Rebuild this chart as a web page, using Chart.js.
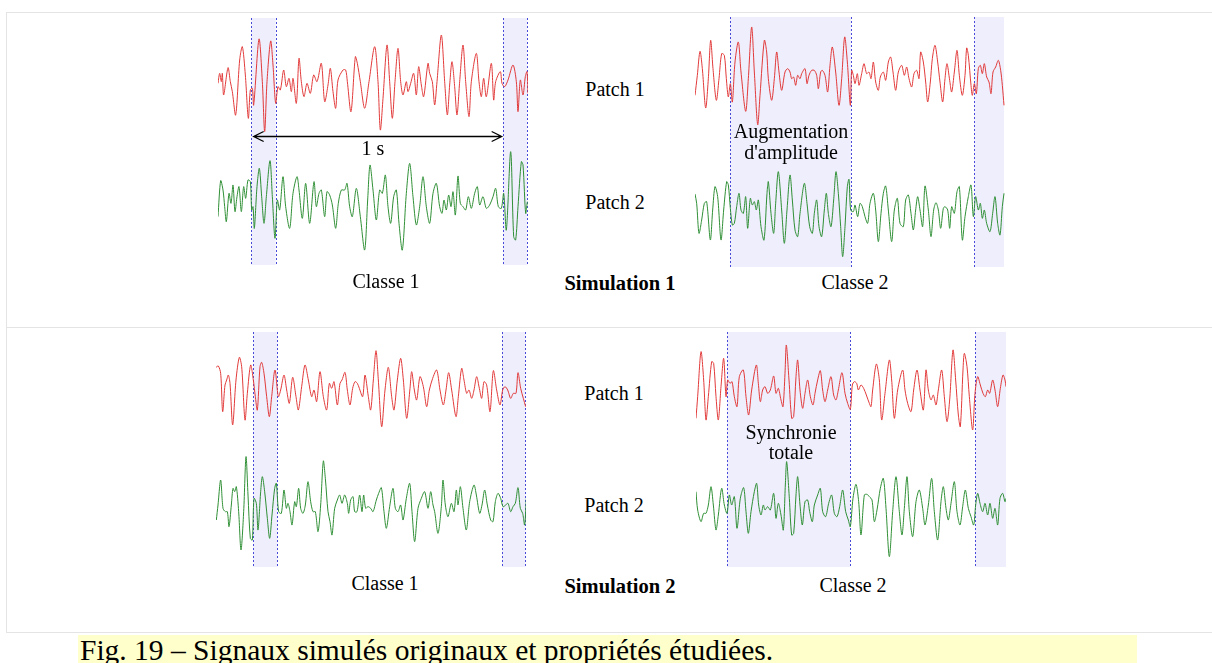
<!DOCTYPE html>
<html>
<head>
<meta charset="utf-8">
<script src="https://cdn.jsdelivr.net/npm/chart.js@4/dist/chart.umd.min.js"></script>
<style>
    body { margin: 0; width: 1212px; height: 663px; overflow: hidden; position: relative; background: #fff;
           font-family: "Liberation Serif", "Times New Roman", serif; }
    .hl { position: absolute; height: 1px; background: #e4e4e4; }
    .vl { position: absolute; width: 1px; background: #e4e4e4; }
    canvas { position: absolute; }
    .t { position: absolute; transform: translate(-50%, -50%); font-size: 20px; white-space: nowrap; color: #000; }
    .b { font-weight: bold; font-size: 20.5px; }
    #legende { position: absolute; left: 78px; top: 635px; width: 1059px; height: 28px; background: #ffffcc; }
    #legendeTexte { position: absolute; left: 80px; top: 633px; font-size: 29.5px; line-height: 34px; white-space: nowrap; }
</style>
</head>
<body>
<div class="hl" style="left:6px;top:12px;width:1206px"></div>
<div class="hl" style="left:6px;top:327px;width:1206px"></div>
<div class="hl" style="left:6px;top:632px;width:1206px"></div>
<div class="vl" style="left:6px;top:12px;height:620px"></div>

<canvas id="s1c1"></canvas>
<canvas id="s1c2"></canvas>
<canvas id="s2c1"></canvas>
<canvas id="s2c2"></canvas>

<div class="t" style="left:615px;top:89px">Patch 1</div>
<div class="t" style="left:615px;top:202px">Patch 2</div>
<div class="t" style="left:373px;top:148px">1 s</div>
<div class="t" style="left:791px;top:131px">Augmentation</div>
<div class="t" style="left:791px;top:152px">d'amplitude</div>
<div class="t" style="left:386px;top:281px">Classe 1</div>
<div class="t b" style="left:620px;top:283px">Simulation 1</div>
<div class="t" style="left:855px;top:282px">Classe 2</div>

<div class="t" style="left:614px;top:393px">Patch 1</div>
<div class="t" style="left:614px;top:505px">Patch 2</div>
<div class="t" style="left:791px;top:432px">Synchronie</div>
<div class="t" style="left:791px;top:452px">totale</div>
<div class="t" style="left:385px;top:583px">Classe 1</div>
<div class="t b" style="left:620px;top:586px">Simulation 2</div>
<div class="t" style="left:853px;top:585px">Classe 2</div>

<div id="legende"></div>
<div id="legendeTexte">Fig. 19 – Signaux simulés originaux et propriétés étudiées.</div>

<script>
// [échantillon, amplitude] ; 744 échantillons = 1 s
const sim1Classe1Patch1 = [[0,-5],[5,25],[10,0],[13,25],[17,-40],[30,42],[37,0],[43,-30],[53,-100],[65,65],[73,105],[82,20],[91,-110],[97,-25],[103,-20],[107,-70],[123,128],[133,0],[140,-150],[147,0],[158,122],[165,50],[173,-65],[180,-15],[187,-25],[197,35],[205,-15],[213,10],[220,-30],[225,10],[235,-65],[243,70],[250,0],[258,-45],[267,-5],[277,-35],[287,20],[297,0],[310,55],[320,-60],[330,-10],[337,40],[345,-30],[353,-80],[360,5],[375,35],[383,35],[388,0],[399,-90],[412,75],[418,55],[427,0],[440,-80],[453,0],[470,105],[480,0],[487,-145],[495,-50],[507,110],[515,0],[523,-110],[531,0],[540,100],[548,0],[555,-40],[565,0],[570,-30],[578,-5],[587,25],[595,-40],[602,45],[610,-10],[617,-45],[630,55],[635,25],[643,0],[650,-70],[657,0],[670,140],[680,0],[688,-100],[695,-10],[702,60],[710,-15],[717,-100],[725,0],[735,110],[743,0],[753,-105],[760,0],[775,85],[783,0],[790,-45],[797,10],[805,-45],[820,55],[827,-55],[833,0],[847,30],[852,-5],[860,-15],[870,5],[885,50],[895,0],[900,-90],[907,5],[915,-40],[922,15],[927,30],[930,-35]];
const sim1Classe1Patch2 = [[0,-30],[8,78],[15,50],[20,0],[25,-45],[33,40],[39,10],[45,65],[51,-15],[57,30],[63,60],[70,-15],[77,60],[83,25],[90,80],[97,75],[101,-10],[105,0],[109,-65],[117,60],[124,115],[131,30],[138,-50],[145,30],[156,138],[163,30],[171,-95],[178,20],[185,-10],[195,90],[203,0],[215,-65],[225,40],[237,90],[243,50],[253,-35],[263,70],[275,-50],[288,75],[295,0],[303,40],[310,50],[320,-30],[327,45],[335,35],[343,5],[353,-65],[361,10],[370,50],[380,50],[387,70],[395,0],[403,-30],[415,55],[427,-30],[440,-130],[449,20],[456,125],[465,50],[475,-40],[485,50],[493,40],[502,95],[510,0],[518,-50],[527,30],[535,50],[543,-50],[553,-130],[565,40],[575,130],[585,30],[595,-55],[605,0],[615,90],[625,0],[635,-50],[645,40],[655,70],[665,0],[672,-20],[678,20],[685,-10],[692,35],[699,0],[705,45],[712,-25],[720,92],[727,10],[735,0],[743,-10],[751,30],[760,-5],[770,40],[778,60],[785,5],[795,30],[805,-5],[815,5],[825,30],[833,55],[841,0],[850,-5],[857,40],[865,-70],[878,165],[887,-90],[893,-100],[900,0],[910,135],[915,125],[923,-20],[928,15]];
const sim1Classe2Patch1 = [[0,-50],[7,10],[15,82],[22,30],[32,-88],[40,0],[47,115],[54,30],[64,-65],[72,0],[80,75],[88,70],[94,0],[100,-55],[106,-15],[112,-70],[120,50],[130,110],[138,20],[152,-98],[160,0],[170,155],[178,20],[188,-138],[195,-50],[208,115],[215,80],[220,0],[230,-65],[238,0],[245,80],[252,20],[260,-35],[270,20],[278,30],[285,20],[290,0],[296,5],[302,-20],[308,10],[315,0],[320,15],[330,30],[336,-15],[342,10],[350,25],[358,25],[365,10],[370,-30],[377,20],[382,25],[390,10],[398,-40],[405,40],[412,95],[422,20],[432,-80],[440,0],[449,125],[457,50],[466,-80],[470,25],[475,10],[480,-15],[487,15],[492,-20],[500,15],[507,45],[515,15],[522,20],[528,0],[535,50],[542,-10],[550,-35],[556,5],[565,20],[572,-5],[580,50],[587,65],[594,20],[602,-35],[610,20],[620,40],[628,10],[635,35],[642,0],[650,-25],[657,15],[665,25],[672,0],[677,80],[685,50],[692,-10],[698,-70],[706,-10],[712,60],[720,100],[728,50],[735,-10],[743,-70],[750,0],[756,45],[764,-5],[770,-40],[778,20],[786,85],[793,10],[802,-50],[810,10],[815,92],[820,70],[828,-20],[832,-50],[838,-15],[844,-45],[850,30],[856,40],[862,15],[868,45],[875,5],[882,-10],[888,-45],[894,20],[902,35],[910,55],[917,25],[922,-20],[927,-80]];
const sim1Classe2Patch2 = [[0,48],[5,20],[12,-70],[20,-30],[28,20],[35,25],[46,-90],[53,0],[60,70],[68,40],[78,-90],[86,0],[95,85],[100,75],[106,5],[112,-45],[118,-40],[125,10],[132,50],[138,0],[145,-10],[152,40],[158,-55],[166,35],[172,15],[178,25],[184,0],[190,30],[198,-50],[207,-90],[216,50],[220,85],[228,-10],[236,-70],[242,20],[250,115],[260,0],[268,-100],[276,0],[285,105],[292,30],[300,-60],[308,-80],[315,-10],[328,80],[336,20],[344,-50],[352,-70],[358,-10],[365,30],[372,-50],[380,-80],[388,0],[394,50],[400,-10],[408,-50],[416,30],[423,115],[430,50],[437,-50],[443,-140],[450,-50],[457,70],[462,92],[467,0],[475,-5],[480,15],[488,-20],[495,20],[502,10],[510,-20],[518,-40],[525,20],[535,50],[542,0],[550,-95],[558,-10],[565,50],[572,72],[580,0],[590,-95],[598,0],[607,35],[615,-40],[625,-50],[632,30],[640,45],[648,-10],[655,-60],[662,0],[668,40],[675,0],[683,-50],[690,72],[700,0],[708,-80],[716,0],[723,22],[730,0],[737,-55],[745,5],[750,10],[758,0],[764,-55],[770,10],[778,-10],[786,55],[793,70],[802,-90],[810,-20],[820,40],[828,75],[835,-20],[842,40],[850,0],[856,20],[862,-25],[868,0],[875,-40],[885,-65],[893,-10],[900,40],[908,-40],[915,-75],[922,10],[927,50]];
const sim2Classe1Patch1 = [[0,63],[7,67],[14,45],[20,-70],[27,10],[32,25],[37,40],[42,15],[50,-110],[60,25],[70,93],[77,65],[87,-95],[94,-15],[104,70],[112,25],[118,-25],[124,-65],[132,65],[137,78],[144,45],[152,-25],[160,-85],[167,-25],[177,55],[187,-25],[194,-5],[204,40],[212,-5],[220,-45],[230,33],[240,-25],[247,-65],[257,5],[267,70],[277,25],[287,-25],[294,-5],[302,-40],[312,50],[322,-25],[332,-65],[340,15],[347,0],[354,20],[364,-50],[372,15],[378,25],[387,48],[394,-5],[402,-50],[410,0],[417,20],[424,15],[430,0],[440,-25],[447,40],[457,-25],[464,-65],[472,25],[480,113],[487,25],[497,-115],[507,-5],[517,63],[527,-25],[534,-65],[544,25],[554,90],[562,25],[572,-90],[582,0],[587,50],[595,-5],[602,-35],[612,35],[622,5],[632,-55],[640,-5],[650,30],[662,55],[672,-5],[682,-50],[690,-5],[698,47],[707,-5],[720,-85],[727,-25],[737,60],[744,25],[752,-15],[759,-5],[767,-30],[774,-5],[782,35],[790,0],[797,-30],[804,20],[812,10],[822,-70],[832,53],[842,-5],[852,-50],[860,-5],[867,5],[875,-5],[884,-30],[892,-15],[900,-15],[906,47],[914,0],[922,-30],[929,-55]];
const sim2Classe1Patch2 = [[1,-35],[6,10],[14,85],[21,0],[28,-10],[34,-10],[39,-55],[46,10],[51,60],[56,50],[61,65],[68,-10],[75,-125],[83,-10],[90,155],[96,40],[103,-90],[109,-95],[114,30],[121,15],[126,-65],[134,50],[139,95],[146,50],[154,-30],[161,-90],[168,-20],[176,60],[181,75],[188,-10],[196,-15],[204,55],[211,0],[216,15],[222,-10],[228,-50],[236,20],[241,5],[248,60],[254,0],[261,-15],[268,10],[276,80],[284,20],[291,-10],[298,-10],[306,-70],[314,10],[322,142],[328,90],[336,-10],[342,-40],[348,-80],[356,0],[364,25],[371,40],[378,15],[386,40],[394,15],[398,-15],[404,25],[411,35],[416,-10],[423,-10],[431,40],[438,-10],[443,40],[449,0],[456,5],[464,0],[471,-10],[481,25],[488,45],[496,62],[504,-10],[511,-60],[521,5],[531,60],[538,0],[546,-10],[554,10],[561,-35],[571,30],[581,75],[588,-10],[596,-100],[606,0],[616,30],[626,50],[636,0],[644,50],[651,10],[656,-10],[666,-75],[676,5],[681,85],[688,10],[696,-25],[706,15],[714,-10],[721,55],[726,10],[733,65],[741,0],[751,-65],[761,20],[774,70],[781,40],[791,-15],[798,10],[806,55],[814,10],[824,-35],[831,-40],[838,20],[846,45],[854,30],[861,5],[869,10],[876,15],[884,-10],[891,5],[898,15],[906,62],[913,0],[920,-15],[926,-50],[931,30]];
const sim2Classe2Patch1 = [[0,-85],[5,-20],[15,115],[23,30],[30,-90],[37,-20],[47,85],[53,80],[60,-20],[67,-90],[75,10],[83,95],[90,-20],[95,30],[102,20],[108,25],[115,-20],[123,-50],[130,40],[142,60],[150,-20],[158,-75],[167,0],[181,75],[187,20],[193,-35],[200,0],[207,10],[215,-10],[223,0],[233,42],[240,-10],[247,5],[255,-30],[261,-50],[267,50],[271,135],[279,30],[287,-85],[293,-80],[300,40],[305,90],[312,0],[320,-55],[327,-10],[335,30],[343,-20],[351,-45],[357,-10],[365,30],[373,58],[380,0],[387,-35],[395,0],[405,40],[413,-15],[420,-30],[427,0],[438,52],[447,-10],[455,-40],[463,-58],[469,15],[475,25],[482,20],[487,0],[495,15],[503,5],[511,-15],[520,-40],[525,-50],[530,0],[541,78],[550,30],[557,-90],[567,-10],[580,90],[587,30],[595,-85],[605,0],[620,60],[627,0],[635,-40],[645,-65],[653,0],[663,60],[672,0],[682,-60],[690,60],[697,0],[705,-30],[712,-15],[720,-45],[727,0],[737,60],[745,-20],[753,-95],[761,-30],[771,120],[779,30],[787,-75],[793,-110],[801,60],[805,110],[813,70],[820,-20],[830,-120],[837,-10],[845,40],[853,15],[861,-10],[868,-20],[875,0],[881,-10],[890,30],[897,0],[905,-50],[913,5],[921,45],[927,30],[930,10]];
const sim2Classe2Patch2 = [[0,50],[5,-5],[15,-40],[23,-15],[30,-15],[37,10],[45,65],[52,10],[60,-65],[67,-20],[77,60],[85,10],[93,-15],[100,40],[107,10],[115,35],[123,-60],[133,30],[143,62],[150,-10],[157,-75],[165,-10],[175,50],[182,75],[188,10],[195,-20],[202,10],[207,-5],[215,5],[223,-5],[233,45],[240,-30],[247,15],[255,-20],[262,-65],[268,70],[272,140],[280,30],[287,-80],[293,-75],[300,40],[305,95],[312,10],[319,-50],[327,20],[335,25],[341,-10],[349,-40],[355,10],[365,40],[373,60],[380,-10],[389,-25],[398,15],[407,40],[415,-15],[423,-25],[431,5],[440,55],[449,-10],[457,-35],[463,-55],[471,30],[480,72],[488,20],[495,-80],[505,40],[513,42],[520,35],[528,25],[535,-40],[543,-5],[553,60],[562,90],[570,0],[580,-145],[590,-10],[600,95],[610,-10],[618,-80],[625,0],[633,95],[640,-10],[650,-85],[660,20],[670,55],[680,0],[687,-50],[697,10],[707,90],[715,-10],[725,-95],[735,20],[742,65],[750,0],[757,-35],[765,15],[775,80],[783,-10],[792,-50],[800,5],[808,55],[817,0],[825,-25],[833,-50],[839,10],[845,45],[852,15],[860,-10],[867,15],[875,-20],[882,15],[890,-30],[897,0],[905,-50],[912,30],[920,45],[927,20],[930,30]];

// fenêtres d'analyse (échantillons) et bords pointillés
const sim1Classe1Bandes = [[100, 173], [855, 927]];
const sim1Classe2Bandes = [[105, 468], [838, 927]];
const sim2Classe1Bandes = [[112, 184], [858, 928]];
const sim2Classe2Bandes = [[93, 462], [838, 930]];
const sim1Classe1Bords = [100, 173, 855, 927];
const sim1Classe2Bords = [105, 468, 838];
const sim2Classe1Bords = [112, 184, 858, 928];
const sim2Classe2Bords = [93, 462, 838];
const fleche1s = [107, 851];

const panneaux = [
    { id: "s1c1", left: 218, top: 18, h: 247, rouge: sim1Classe1Patch1, vert: sim1Classe1Patch2,
      bandes: sim1Classe1Bandes, bords: sim1Classe1Bords, yR: [-550, 191], yV: [-175, 566], fleche: 118 },
    { id: "s1c2", left: 695, top: 17, h: 250, rouge: sim1Classe2Patch1, vert: sim1Classe2Patch2,
      bandes: sim1Classe2Bandes, bords: sim1Classe2Bords, yR: [-565, 185], yV: [-171, 579] },
    { id: "s2c1", left: 216, top: 332, h: 235, rouge: sim2Classe1Patch1, vert: sim2Classe1Patch2,
      bandes: sim2Classe1Bandes, bords: sim2Classe1Bords, yR: [-536, 169], yV: [-176, 529] },
    { id: "s2c2", left: 696, top: 332, h: 235, rouge: sim2Classe2Patch1, vert: sim2Classe2Patch2,
      bandes: sim2Classe2Bandes, bords: sim2Classe2Bords, yR: [-531, 174], yV: [-176, 529] }
];

const pluginFenetres = {
    id: "fenetres",
    beforeDatasetsDraw(chart, args, opts) {
        const { ctx, chartArea: a, scales: { x } } = chart;
        ctx.save();
        ctx.fillStyle = "#eeeefc";
        opts.bandes.forEach(([d, f]) => {
            const x0 = x.getPixelForValue(d), x1 = x.getPixelForValue(f);
            ctx.fillRect(x0, a.top, x1 - x0, a.bottom - a.top);
        });
        ctx.strokeStyle = "#4a4ad8";
        ctx.lineWidth = 1;
        ctx.setLineDash([2, 2]);
        opts.bords.forEach(b => {
            const px = Math.round(x.getPixelForValue(b)) + 0.5;
            ctx.beginPath();
            ctx.moveTo(px, a.top);
            ctx.lineTo(px, a.bottom);
            ctx.stroke();
        });
        ctx.restore();
    },
    afterDatasetsDraw(chart, args, opts) {
        if (opts.fleche === undefined) return;
        const { ctx, scales: { x } } = chart;
        const x0 = x.getPixelForValue(fleche1s[0]), x1 = x.getPixelForValue(fleche1s[1]);
        const y = opts.fleche + 0.5;
        ctx.save();
        ctx.strokeStyle = "#000";
        ctx.lineWidth = 1.3;
        ctx.beginPath();
        ctx.moveTo(x0, y); ctx.lineTo(x1, y);
        ctx.moveTo(x0 + 10, y - 5); ctx.lineTo(x0, y); ctx.lineTo(x0 + 10, y + 5);
        ctx.moveTo(x1 - 10, y - 5); ctx.lineTo(x1, y); ctx.lineTo(x1 - 10, y + 5);
        ctx.stroke();
        ctx.restore();
    }
};

function dessinerPanneau(p) {
    const canvas = document.getElementById(p.id);
    canvas.width = 310; canvas.height = p.h;
    canvas.style.left = p.left + "px"; canvas.style.top = p.top + "px";
    canvas.style.width = "310px"; canvas.style.height = p.h + "px";
    const pts = arr => arr.map(([x, y]) => ({ x, y }));
    new Chart(canvas.getContext("2d"), {
        type: "line",
        data: {
            datasets: [
                { data: pts(p.rouge), borderColor: "#e23a3a", yAxisID: "yR" },
                { data: pts(p.vert), borderColor: "#2f8f35", yAxisID: "yV" }
            ]
        },
        options: {
            responsive: false,
            animation: false,
            devicePixelRatio: 1,
            layout: { padding: 0 },
            elements: { point: { radius: 0 }, line: { borderWidth: 1, tension: 0.3, fill: false } },
            plugins: { legend: { display: false }, tooltip: { enabled: false },
                       fenetres: { bandes: p.bandes, bords: p.bords, fleche: p.fleche } },
            scales: {
                x: { type: "linear", min: 0, max: 930, display: false },
                yR: { min: p.yR[0], max: p.yR[1], display: false },
                yV: { min: p.yV[0], max: p.yV[1], display: false }
            }
        },
        plugins: [pluginFenetres]
    });
}

panneaux.forEach(dessinerPanneau);
</script>
</body>
</html>
